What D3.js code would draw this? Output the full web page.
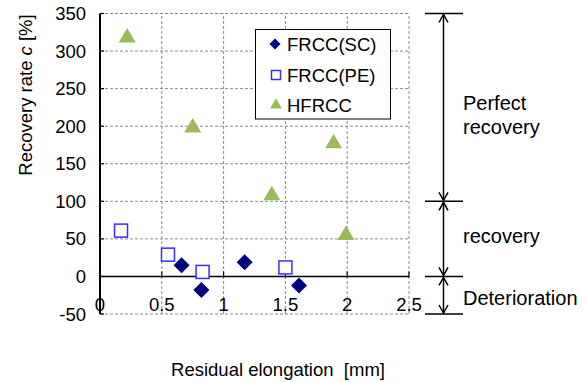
<!DOCTYPE html>
<html><head><meta charset="utf-8">
<script src="https://cdn.jsdelivr.net/npm/d3@7"></script>
<style>body{margin:0;background:#fff}svg{display:block}text{font-family:"Liberation Sans",Arial,sans-serif;fill:#000}</style>
</head><body><svg id="c" width="587" height="382"></svg>
<script>
const seriesNames = ["FRCC(SC)", "FRCC(PE)", "HFRCC"];
const scX = [0.66, 0.82, 1.17, 1.61];
const scY = [15, -18, 19, -12];
const peX = [0.17, 0.55, 0.83, 1.50];
const peY = [61, 29, 6, 12];
const hfX = [0.22, 0.75, 1.39, 1.89, 1.99];
const hfY = [320, 200, 110, 179, 57];
const xTicks = [0, 0.5, 1, 1.5, 2, 2.5];
const yTicks = [-50, 0, 50, 100, 150, 200, 250, 300, 350];
const zones = [{from:350,to:100,label:["Perfect","recovery"]},{from:100,to:0,label:["recovery"]},{from:0,to:-50,label:["Deterioration"]}];

const svg = d3.select("#c");
const x = d3.scaleLinear().domain([0,2.5]).range([100,409]);
const y = d3.scaleLinear().domain([-50,350]).range([314,13.5]);
const FS = 18.5;

// grid
const g = svg.append("g");
g.selectAll(".vg").data(xTicks.slice(1)).join("line")
  .attr("x1",d=>x(d)).attr("x2",d=>x(d)).attr("y1",y(-50)).attr("y2",y(350))
  .attr("stroke","#888").attr("stroke-dasharray","3,2").attr("stroke-width",1);
g.selectAll(".hg").data(yTicks).join("line")
  .attr("x1",x(0)).attr("x2",x(2.5)).attr("y1",d=>y(d)).attr("y2",d=>y(d))
  .attr("stroke","#888").attr("stroke-dasharray","3,2").attr("stroke-width",1);

// x axis at 0
svg.append("line").attr("x1",x(0)).attr("x2",x(2.5)).attr("y1",y(0)).attr("y2",y(0)).attr("stroke","#000").attr("stroke-width",1.5);
svg.selectAll(".xt").data(xTicks.slice(1)).join("line")
  .attr("x1",d=>x(d)).attr("x2",d=>x(d)).attr("y1",y(0)-5).attr("y2",y(0)+1)
  .attr("stroke","#000").attr("stroke-width",1.2);
// y axis
svg.append("line").attr("x1",x(0)).attr("x2",x(0)).attr("y1",y(-50)).attr("y2",y(350)).attr("stroke","#000").attr("stroke-width",2);
svg.selectAll(".yt").data(yTicks).join("line")
  .attr("x1",x(0)).attr("x2",x(0)+4).attr("y1",d=>y(d)).attr("y2",d=>y(d)).attr("stroke","#000").attr("stroke-width",1.2);

// tick labels
svg.selectAll(".yl").data(yTicks).join("text")
  .attr("x",86).attr("y",d=>y(d)+6.5).attr("text-anchor","end").attr("font-size",FS).text(d=>d);
svg.selectAll(".xl").data(xTicks).join("text")
  .attr("x",d=>x(d)).attr("y",311).attr("text-anchor","middle").attr("font-size",FS).text(d=>d);

// titles
svg.append("text").attr("x",278).attr("y",376).attr("text-anchor","middle").attr("font-size",FS).attr("xml:space","preserve").text("Residual elongation  [mm]");
const yt = svg.append("text").attr("transform","translate(32,95) rotate(-90)").attr("text-anchor","middle").attr("font-size",FS);
yt.append("tspan").text("Recovery rate ");
yt.append("tspan").attr("font-style","italic").text("c");
yt.append("tspan").text(" [%]");

// markers
function drawDiamond(sel,cx,cy,s){
  sel.append("path").attr("d",`M${cx},${cy-s}L${cx+s},${cy}L${cx},${cy+s}L${cx-s},${cy}Z`).attr("fill","#000080");
}
function drawSquare(sel,cx,cy,s){
  sel.append("rect").attr("x",cx-s).attr("y",cy-s).attr("width",2*s).attr("height",2*s).attr("fill","#fff").attr("stroke","#3030ff").attr("stroke-width",1.5);
}
function drawTri(sel,cx,cy,s){
  sel.append("path").attr("d",`M${cx},${cy-s*0.95}L${cx+s},${cy+s*0.75}L${cx-s},${cy+s*0.75}Z`).attr("fill","#9bbb59");
}
const m = svg.append("g");
peX.forEach((v,i)=>drawSquare(m,x(v),y(peY[i]),6.5));
scX.forEach((v,i)=>drawDiamond(m,x(v),y(scY[i]),8));
hfX.forEach((v,i)=>drawTri(m,x(v),y(hfY[i]),8.5));

// legend
const lg = svg.append("g");
lg.append("rect").attr("x",255.5).attr("y",29.5).attr("width",135).attr("height",89.5).attr("fill","#fff").attr("stroke","#000").attr("stroke-width",1);
const ly=[44,75,105];
drawDiamond(lg,275,ly[0],5.5);
drawSquare(lg,276,ly[1],4.5);
drawTri(lg,276,ly[2]-1,6);
seriesNames.forEach((n,i)=>lg.append("text").attr("x",287).attr("y",ly[i]+6.5).attr("font-size",FS).text(n));

// zone annotations
const defs = svg.append("defs");
defs.append("marker").attr("id","ah").attr("viewBox","-10 -6 12 12").attr("refX",0).attr("refY",0)
  .attr("markerWidth",12).attr("markerHeight",12).attr("markerUnits","userSpaceOnUse").attr("orient","auto-start-reverse")
  .append("path").attr("d","M-8,-4.5L0,0L-8,4.5").attr("fill","none").attr("stroke","#000").attr("stroke-width",1.5);
const ax = 443.5;
[350,100,0,-50].forEach(v=>svg.append("line").attr("x1",425).attr("x2",463).attr("y1",y(v)).attr("y2",y(v)).attr("stroke","#000").attr("stroke-width",1.5));
zones.forEach(z=>{
  svg.append("line").attr("x1",ax).attr("x2",ax).attr("y1",y(z.from)+1).attr("y2",y(z.to)-1)
    .attr("stroke","#000").attr("stroke-width",1.5).attr("marker-start","url(#ah)").attr("marker-end","url(#ah)");
});
const AFS = 20;
svg.append("text").attr("x",463).attr("y",110).attr("font-size",AFS).text("Perfect");
svg.append("text").attr("x",463).attr("y",134).attr("font-size",AFS).text("recovery");
svg.append("text").attr("x",463).attr("y",243).attr("font-size",AFS).text("recovery");
svg.append("text").attr("x",463).attr("y",305).attr("font-size",AFS).text("Deterioration");
</script></body></html>
